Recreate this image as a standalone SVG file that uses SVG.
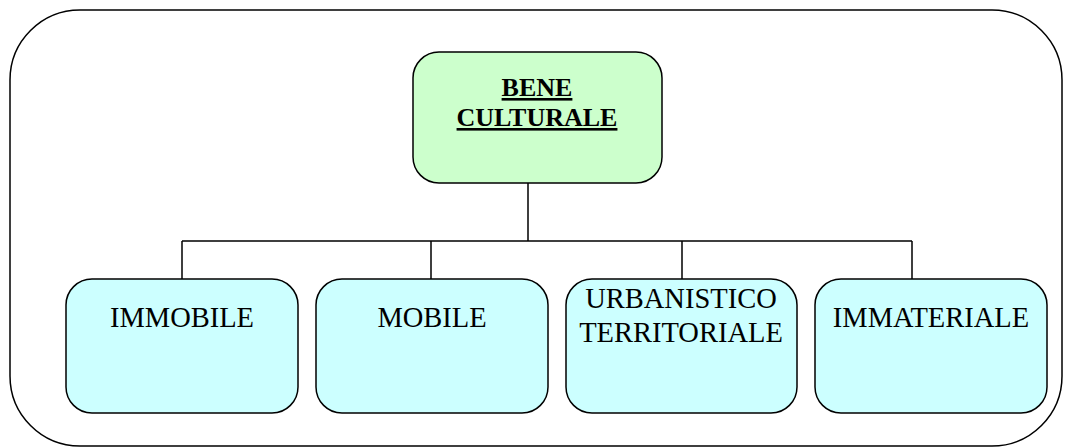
<svg xmlns="http://www.w3.org/2000/svg" width="1072" height="448" viewBox="0 0 1072 448">
<style>
.box{stroke:#000;stroke-width:1.5}
.top{fill:#ccffcc}
.leaf{fill:#ccffff}
.conn{fill:none;stroke:#000;stroke-width:1.5}
text{font-family:"Liberation Serif","Times New Roman",serif;text-anchor:middle;fill:#000}
.b{font-weight:bold;font-size:26px;text-decoration:underline}
.r{font-size:28.5px}
</style>
<rect x="10" y="10" width="1052" height="436" rx="70" ry="70" fill="#fff" stroke="#000" stroke-width="1.5"/>
<g id="connectors">
<path class="conn" d="M528 183 V241 M182 241 H912 M182 241 V279 M431 241 V279 M682 241 V279 M912 241 V279"/>
</g>
<g id="bene-culturale">
<rect class="box top" x="413" y="52" width="249" height="131" rx="26"/>
<text class="b" x="537" y="96">BENE</text>
<text class="b" x="537" y="126">CULTURALE</text>
</g>
<g id="immobile">
<rect class="box leaf" x="66" y="279" width="232" height="134" rx="26"/>
<text class="r" x="182" y="327">IMMOBILE</text>
</g>
<g id="mobile">
<rect class="box leaf" x="316" y="279" width="232" height="134" rx="26"/>
<text class="r" x="432" y="327">MOBILE</text>
</g>
<g id="urbanistico">
<rect class="box leaf" x="566" y="279" width="231" height="134" rx="26"/>
<text class="r" x="681" y="308">URBANISTICO</text>
<text class="r" x="681" y="342">TERRITORIALE</text>
</g>
<g id="immateriale">
<rect class="box leaf" x="815" y="279" width="232" height="134" rx="26"/>
<text class="r" x="931" y="327">IMMATERIALE</text>
</g>
</svg>
